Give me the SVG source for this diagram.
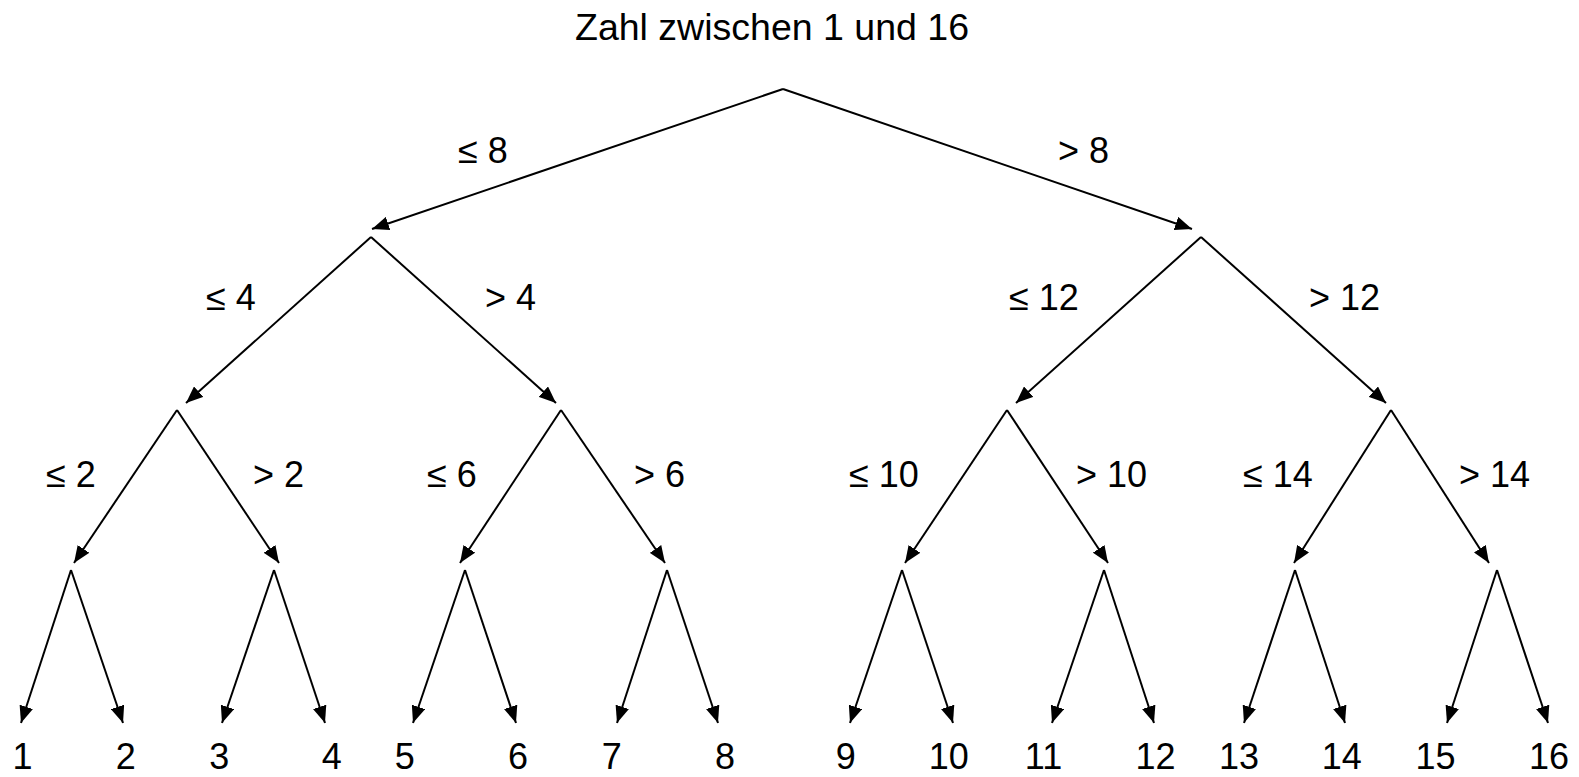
<svg xmlns="http://www.w3.org/2000/svg" width="1579" height="777" viewBox="0 0 1579 777">
<style>
text{font-family:"Liberation Sans",Arial,sans-serif;font-size:36px;fill:#000}
.t{font-size:37.5px}
.c{text-anchor:middle}
line{stroke:#000;stroke-width:2;marker-end:url(#a)}
</style>
<defs>
<marker id="a" markerWidth="18" markerHeight="14" refX="17" refY="7" orient="auto" markerUnits="userSpaceOnUse"><path d="M0,0 L17,7 L0,14 z" fill="#000"/></marker>
</defs>
<rect width="1579" height="777" fill="#fff"/>
<g id="title"><text class="t c" x="772" y="40">Zahl zwischen 1 und 16</text></g>
<g id="connectors">
<line x1="783" y1="89" x2="372" y2="229"/>
<line x1="783" y1="89" x2="1192" y2="229"/>
<line x1="371" y1="237" x2="186" y2="403"/>
<line x1="371" y1="237" x2="556" y2="403"/>
<line x1="1201" y1="237" x2="1016" y2="403"/>
<line x1="1201" y1="237" x2="1386" y2="403"/>
<line x1="177" y1="410" x2="74" y2="563"/>
<line x1="177" y1="410" x2="279" y2="563"/>
<line x1="561" y1="410" x2="460" y2="563"/>
<line x1="561" y1="410" x2="665" y2="563"/>
<line x1="1007" y1="410" x2="905" y2="563"/>
<line x1="1007" y1="410" x2="1108" y2="563"/>
<line x1="1391" y1="410" x2="1294" y2="563"/>
<line x1="1391" y1="410" x2="1489" y2="563"/>
<line x1="71" y1="570" x2="21" y2="723"/>
<line x1="71" y1="570" x2="123" y2="723"/>
<line x1="274" y1="570" x2="222" y2="723"/>
<line x1="274" y1="570" x2="325" y2="723"/>
<line x1="465" y1="570" x2="413" y2="723"/>
<line x1="465" y1="570" x2="516" y2="723"/>
<line x1="667" y1="570" x2="617" y2="723"/>
<line x1="667" y1="570" x2="718" y2="723"/>
<line x1="902" y1="570" x2="850" y2="723"/>
<line x1="902" y1="570" x2="953" y2="723"/>
<line x1="1104" y1="570" x2="1052" y2="723"/>
<line x1="1104" y1="570" x2="1154" y2="723"/>
<line x1="1295" y1="570" x2="1244" y2="723"/>
<line x1="1295" y1="570" x2="1345" y2="723"/>
<line x1="1497" y1="570" x2="1447" y2="723"/>
<line x1="1497" y1="570" x2="1548" y2="723"/>
</g>
<g id="edge-labels">
<text x="458" y="163">≤ 8</text>
<text x="1058" y="163">&gt; 8</text>
<text x="206" y="310">≤ 4</text>
<text x="485" y="310">&gt; 4</text>
<text x="1009" y="310">≤ 12</text>
<text x="1309" y="310">&gt; 12</text>
<text x="46" y="487">≤ 2</text>
<text x="253" y="487">&gt; 2</text>
<text x="427" y="487">≤ 6</text>
<text x="634" y="487">&gt; 6</text>
<text x="849" y="487">≤ 10</text>
<text x="1076" y="487">&gt; 10</text>
<text x="1243" y="487">≤ 14</text>
<text x="1459" y="487">&gt; 14</text>
</g>
<g id="leaves">
<text class="c" x="22.6" y="769">1</text>
<text class="c" x="125.8" y="769">2</text>
<text class="c" x="219.2" y="769">3</text>
<text class="c" x="331.7" y="769">4</text>
<text class="c" x="404.7" y="769">5</text>
<text class="c" x="518" y="769">6</text>
<text class="c" x="611.7" y="769">7</text>
<text class="c" x="725" y="769">8</text>
<text class="c" x="845.8" y="769">9</text>
<text class="c" x="948.8" y="769">10</text>
<text class="c" x="1043.5" y="769">11</text>
<text class="c" x="1155.6" y="769">12</text>
<text class="c" x="1238.9" y="769">13</text>
<text class="c" x="1341.7" y="769">14</text>
<text class="c" x="1435.4" y="769">15</text>
<text class="c" x="1548.9" y="769">16</text>
</g>
</svg>
